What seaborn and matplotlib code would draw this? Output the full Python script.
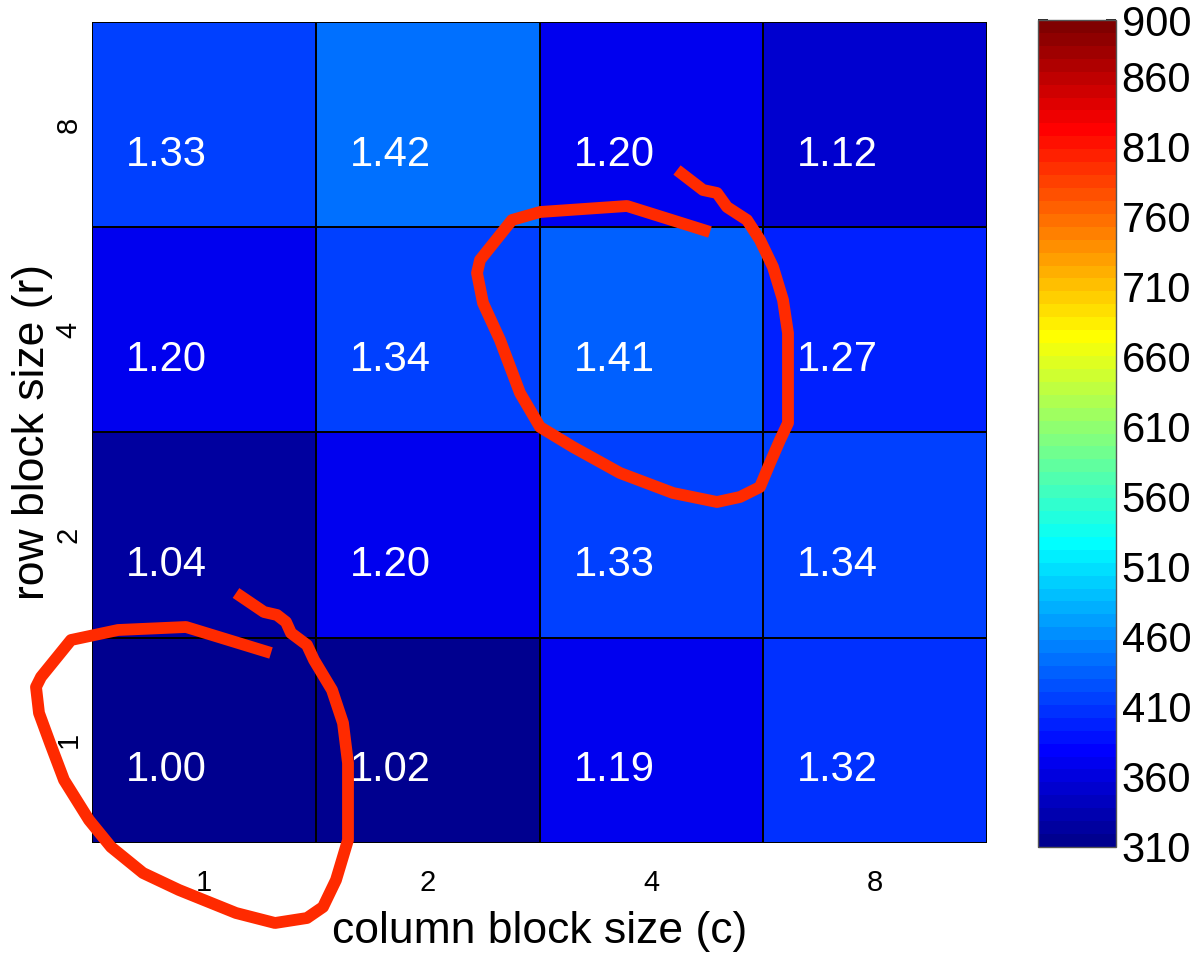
import numpy as np
import pandas as pd
import matplotlib
matplotlib.use("Agg")
import matplotlib.pyplot as plt
from matplotlib.colors import ListedColormap
from matplotlib.lines import Line2D
import seaborn as sns

# Register-blocking sweep: speedup over the 1x1 (unblocked) kernel
col_block_sizes = [1, 2, 4, 8]
row_block_sizes = [8, 4, 2, 1]          # listed top to bottom
speedup_r8 = [1.33, 1.42, 1.20, 1.12]
speedup_r4 = [1.20, 1.34, 1.41, 1.27]
speedup_r2 = [1.04, 1.20, 1.33, 1.34]
speedup_r1 = [1.00, 1.02, 1.19, 1.32]
base_mflops = 310                       # performance of the 1x1 kernel
cbar_ticks = [310, 360, 410, 460, 510, 560, 610, 660, 710, 760, 810, 860, 900]
cmin, cmax = 310, 900

speedup = pd.DataFrame([speedup_r8, speedup_r4, speedup_r2, speedup_r1],
                       index=row_block_sizes, columns=col_block_sizes)
mflops = speedup * base_mflops


def matlab_jet(n=64):
    """Classic MATLAB jet colormap with n discrete levels."""
    q = n // 4
    u = np.r_[np.arange(1, q + 1) / q, np.ones(q - 1), np.arange(q, 0, -1) / q]
    g0 = int(np.ceil(q / 2)) - (n % 4 == 1)
    k = np.arange(len(u))
    rgb = np.zeros((n, 3))
    for ch, off in ((0, g0 + q), (1, g0), (2, g0 - q)):
        idx = k + off
        ok = (idx >= 0) & (idx < n)
        rgb[idx[ok], ch] = u[ok]
    return ListedColormap(rgb)


sns.set_theme(style="white")
plt.rcParams["font.family"] = ["Liberation Sans", "DejaVu Sans"]
plt.rcParams["text.color"] = "black"
plt.rcParams["axes.labelcolor"] = "black"
plt.rcParams["xtick.color"] = "black"
plt.rcParams["ytick.color"] = "black"

W, H = 1198, 958
fig = plt.figure(figsize=(W / 100, H / 100), dpi=100)
ax = fig.add_axes([92 / W, 1 - 843 / H, (987 - 92) / W, (843 - 22) / H])
cax = fig.add_axes([1038 / W, 1 - 847 / H, (1116 - 1038) / W, (847 - 20) / H])

sns.heatmap(mflops, ax=ax, cbar_ax=cax, cmap=matlab_jet(64),
            vmin=cmin, vmax=cmax, linewidths=1.2, linecolor="black",
            annot=False, square=False)

# speedup values written inside each cell
for i in range(speedup.shape[0]):
    for j in range(speedup.shape[1]):
        ax.text(j + 0.152, i + 0.70, f"{speedup.iat[i, j]:.2f}",
                color="white", fontsize=30, ha="left", va="baseline")

ax.tick_params(axis="both", length=0, labelcolor="black")
ax.tick_params(axis="x", labelsize=21, pad=19)
ax.tick_params(axis="y", labelsize=21, pad=7)
ax.set_xticklabels(col_block_sizes)
ax.set_yticklabels(row_block_sizes, rotation=90, va="center")
ax.set_xlabel("column block size (c)", fontsize=32, labelpad=10, color="black")
ax.set_ylabel("row block size (r)", fontsize=32, labelpad=1, color="black")

cb = ax.collections[0].colorbar
cb.set_ticks(cbar_ticks)
cb.set_ticklabels([str(t) for t in cbar_ticks])
cb.ax.tick_params(direction="in", length=7, width=1.2, color="black",
                  labelcolor="black", left=True, right=True,
                  labelsize=30, pad=4)
cb.outline.set_linewidth(1.0)
cb.outline.set_edgecolor("#555555")

# hand-drawn highlight strokes (figure pixel coordinates)
stroke_a = [(236, 593), (264, 612), (277, 615), (286, 622), (291, 633),
            (307, 645), (314, 660), (332, 690), (343, 723), (348, 763),
            (348, 840), (336, 880), (323, 907), (307, 918), (275, 923),
            (236, 913), (179, 890), (143, 873), (111, 847), (89, 820),
            (64, 780), (50, 743), (39, 713), (36, 687), (41, 677),
            (71, 640), (118, 630), (186, 627), (271, 653)]
stroke_b = [(677, 170), (703, 190), (717, 193), (727, 207), (747, 220),
            (760, 240), (773, 267), (783, 300), (788, 333), (788, 423),
            (780, 440), (770, 463), (760, 487), (740, 497), (717, 502),
            (673, 493), (620, 473), (573, 447), (540, 427), (520, 393),
            (500, 340), (483, 303), (477, 273), (480, 260), (512, 220),
            (540, 212), (627, 206), (710, 232)]
for pts in (stroke_a, stroke_b):
    xs = [p[0] / W for p in pts]
    ys = [1 - p[1] / H for p in pts]
    fig.add_artist(Line2D(xs, ys, transform=fig.transFigure, color="#FF2A00",
                          lw=8.5, solid_joinstyle="round",
                          solid_capstyle="butt", zorder=10))

fig.savefig("out.png", dpi=100, facecolor="white")
